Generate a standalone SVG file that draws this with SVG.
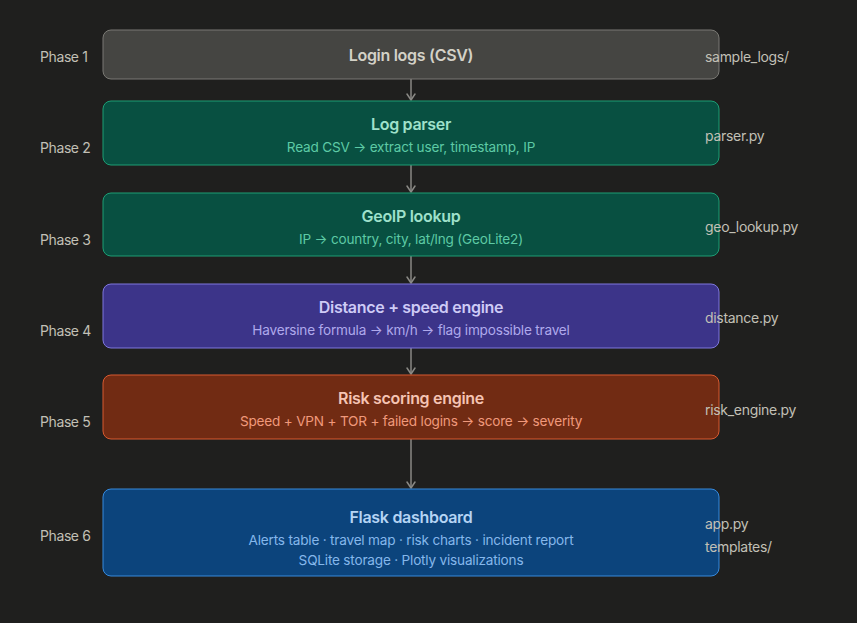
<svg xmlns="http://www.w3.org/2000/svg" width="857" height="623" viewBox="0 0 857 623">
<style>
text{font-family:Inter,"Liberation Sans",sans-serif;}
.ph{font-size:14px;fill:#c2c0b6;letter-spacing:-0.4px;}
.fl{font-size:14px;fill:#c2c0b6;letter-spacing:-0.3px;}
.t{font-size:16px;font-weight:600;text-anchor:middle;dominant-baseline:central;letter-spacing:-0.3px;}
.s{font-size:13.6px;text-anchor:middle;dominant-baseline:central;letter-spacing:-0.2px;}
.ph,.fl{dominant-baseline:central;}
.conn{stroke:#8a8985;stroke-width:1.5;fill:none;}
</style>
<defs>
<marker id="arr" viewBox="0 0 10 10" refX="8" refY="5" markerWidth="10" markerHeight="10" markerUnits="userSpaceOnUse" orient="auto">
<path d="M2 1L8 5L2 9" fill="none" stroke="#8a8985" stroke-width="1.5" stroke-linecap="round" stroke-linejoin="round"/>
</marker>
</defs>
<rect width="857" height="623" fill="#1f1f1e"/>
<g id="connectors">
<line class="conn" x1="411" y1="79" x2="411" y2="100" marker-end="url(#arr)"/>
<line class="conn" x1="411" y1="165" x2="411" y2="192" marker-end="url(#arr)"/>
<line class="conn" x1="411" y1="256" x2="411" y2="283" marker-end="url(#arr)"/>
<line class="conn" x1="411" y1="348" x2="411" y2="374" marker-end="url(#arr)"/>
<line class="conn" x1="411" y1="439" x2="411" y2="488" marker-end="url(#arr)"/>
</g>
<g id="phase1">
<rect x="103" y="30" width="616" height="49" rx="8" fill="#454542" stroke="#7a7974" stroke-width="1"/>
<text class="t" x="411" y="55" fill="#d3d1c7">Login logs (CSV)</text>
<text class="ph" x="40" y="56">Phase 1</text>
<text class="fl" x="705" y="56">sample_logs/</text>
</g>
<g id="phase2">
<rect x="103" y="101" width="616" height="64" rx="8" fill="#085041" stroke="#1d9e75" stroke-width="1"/>
<text class="t" x="411" y="124" fill="#9fe1cb">Log parser</text>
<text class="s" x="411" y="147" fill="#5dcaa5">Read CSV → extract user, timestamp, IP</text>
<text class="ph" x="40" y="147">Phase 2</text>
<text class="fl" x="705" y="135">parser.py</text>
</g>
<g id="phase3">
<rect x="103" y="193" width="616" height="63" rx="8" fill="#085041" stroke="#1d9e75" stroke-width="1"/>
<text class="t" x="411" y="216" fill="#9fe1cb">GeoIP lookup</text>
<text class="s" x="411" y="239" fill="#5dcaa5">IP → country, city, lat/lng (GeoLite2)</text>
<text class="ph" x="40" y="239">Phase 3</text>
<text class="fl" x="705" y="226">geo_lookup.py</text>
</g>
<g id="phase4">
<rect x="103" y="284" width="616" height="64" rx="8" fill="#3c3489" stroke="#7f77dd" stroke-width="1"/>
<text class="t" x="411" y="307" fill="#cecbf6">Distance + speed engine</text>
<text class="s" x="411" y="330" fill="#afa9ec">Haversine formula → km/h → flag impossible travel</text>
<text class="ph" x="40" y="330">Phase 4</text>
<text class="fl" x="705" y="317">distance.py</text>
</g>
<g id="phase5">
<rect x="103" y="375" width="616" height="64" rx="8" fill="#712b13" stroke="#d85a30" stroke-width="1"/>
<text class="t" x="411" y="398" fill="#f5c4b3">Risk scoring engine</text>
<text class="s" x="411" y="421" fill="#f0997b">Speed + VPN + TOR + failed logins → score → severity</text>
<text class="ph" x="40" y="421">Phase 5</text>
<text class="fl" x="705" y="409">risk_engine.py</text>
</g>
<g id="phase6">
<rect x="103" y="489" width="616" height="87" rx="8" fill="#0c447c" stroke="#378add" stroke-width="1"/>
<text class="t" x="411" y="517" fill="#b5d4f4">Flask dashboard</text>
<text class="s" x="411" y="540" fill="#85b7eb">Alerts table · travel map · risk charts · incident report</text>
<text class="s" x="411" y="560" fill="#85b7eb">SQLite storage · Plotly visualizations</text>
<text class="ph" x="40" y="535">Phase 6</text>
<text class="fl" x="705" y="523">app.py</text>
<text class="fl" x="705" y="546">templates/</text>
</g>
</svg>
